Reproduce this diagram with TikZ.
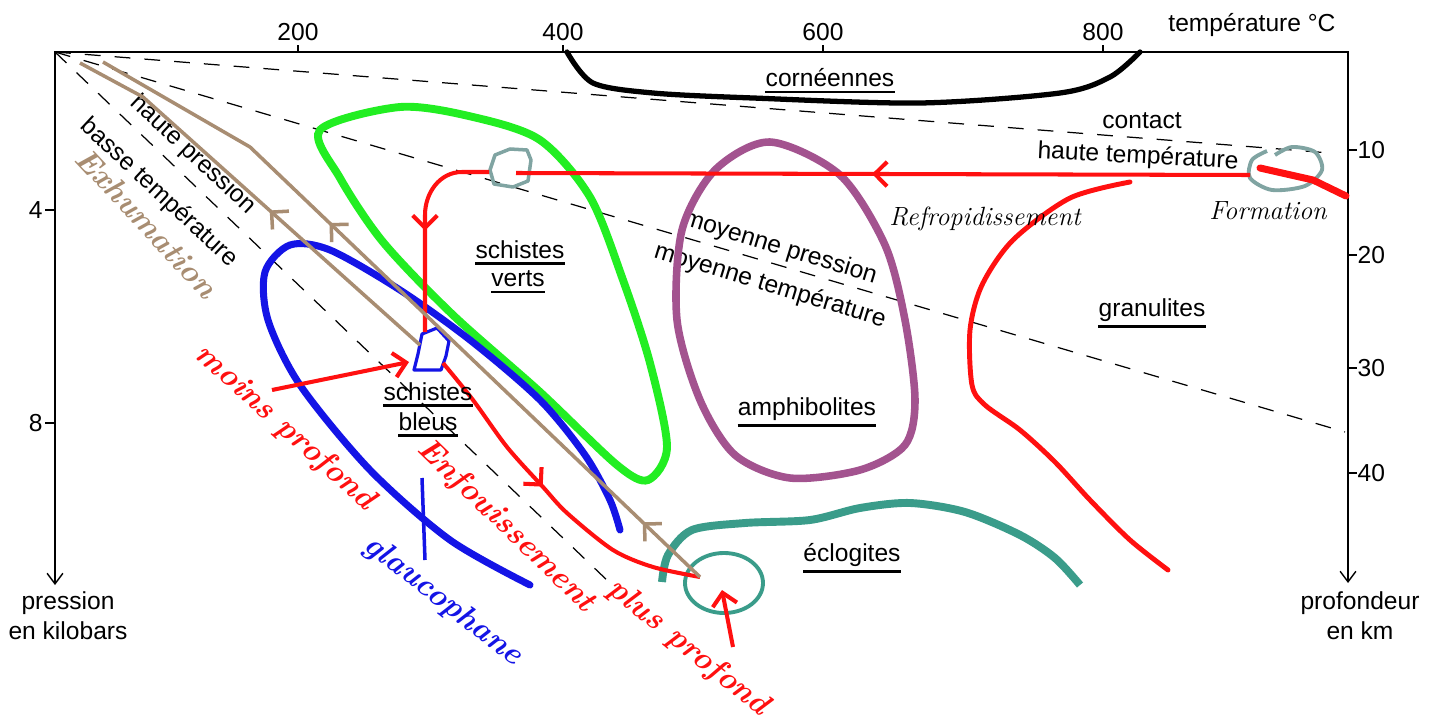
\documentclass[tikz,border=0pt]{standalone}
\usepackage{fontspec}
\setsansfont{Liberation Sans}
\usepackage{tikz}
\usetikzlibrary{arrows.meta, decorations.markings}
\definecolor{BLACK}{HTML}{000000}
\definecolor{RED}{HTML}{FF1010}
\definecolor{GREEN}{HTML}{22EE22}
\definecolor{BLUE}{HTML}{1414E6}
\definecolor{BROWN}{HTML}{A88D72}
\definecolor{PURPLE}{HTML}{A3538F}
\definecolor{TEAL}{HTML}{3A9C8A}
\definecolor{GREYTEAL}{HTML}{80A4A2}

\begin{document}
\begin{tikzpicture}[x=0.02cm, y=-0.02cm,
    lbl/.style={font=\sffamily\fontsize{14}{17}\selectfont, inner sep=0pt},
    hand/.style={font=\rmfamily\bfseries\itshape\fontsize{18}{22}\selectfont, inner sep=0pt},
    handsmall/.style={font=\rmfamily\itshape\fontsize{15}{18}\selectfont, inner sep=0pt},
    axe/.style={BLACK, line width=0.8pt},
    tiret/.style={BLACK, line width=0.7pt, dash pattern=on 9pt off 8pt},
    souligne/.style={BLACK, line width=1.5pt},
    rouge/.style={RED, line width=2.3pt, line join=round},
    brun/.style={BROWN, line width=2pt, line join=round},
    fleche/.style={postaction={decorate, decoration={markings, mark=at position #1 with {\arrow{Straight Barb[length=7pt,width=14pt]}}}}},
    ]
    \fill[white] (0,0) rectangle (1438,727);
    \useasboundingbox (0,0) rectangle (1438,727);
    %
    \coordinate (O) at (55,52);
    \coordinate (Ptop) at (1348,52);
    \coordinate (Pbas) at (55,585);
    \coordinate (Hbas) at (1348,583);
    \draw[axe, {Straight Barb[length=6pt,width=9pt]}-{Straight Barb[length=6pt,width=9pt]}] (Pbas) -- (O) -- (Ptop) -- (Hbas);
    %
    \draw[axe] (298,52) -- (298,45) node[lbl, above=2pt] (t200) {200};
    \draw[axe] (563,52) -- (563,45) node[lbl, above=2pt] (t400) {400};
    \draw[axe] (823,52) -- (823,45) node[lbl, above=2pt] (t600) {600};
    \draw[axe] (1103,52) -- (1103,45) node[lbl, above=2pt] (t800) {800};
    \node[lbl] (tempC) at (1252,25) {température °C};
    %
    \draw[axe] (55,210) -- (45,210) node[lbl, left=1pt] (p4) {4};
    \draw[axe] (55,423) -- (45,423) node[lbl, left=1pt] (p8) {8};
    \node[lbl, align=center] (pres) at (68,616) {pression\\en kilobars};
    %
    \draw[axe] (1348,150) -- (1357,150) node[lbl, right=0pt] (k10) {10};
    \draw[axe] (1348,255) -- (1357,255) node[lbl, right=0pt] (k20) {20};
    \draw[axe] (1348,368) -- (1357,368) node[lbl, right=0pt] (k30) {30};
    \draw[axe] (1348,473) -- (1357,473) node[lbl, right=0pt] (k40) {40};
    \node[lbl, align=center] (prof) at (1360,616) {profondeur\\en km};
    %
    \draw[tiret] (O) -- (1330,153);
    \draw[tiret] (O) -- (1345,432);
    \draw[tiret] (O) -- (610,583);
    %
    \node[lbl] (contact) at (1142,121) {contact};
    \node[lbl, rotate=-3] (hautT) at (1138,157) {haute température};
    \node[lbl, rotate=-17] (moyP) at (780,248) {moyenne pression};
    \node[lbl, rotate=-17] (moyT) at (770,286) {moyenne température};
    \node[lbl, rotate=-43] (hautP) at (193,155) {haute pression};
    \node[lbl, rotate=-43] (basT) at (159,193) {basse température};
    %
    \draw[BLACK, line width=3pt, line cap=round] plot[smooth] coordinates {(567,52) (593,83) (653,93) (753,98) (920,103) (1060,93) (1110,77) (1140,52)};
    \draw[GREEN, line width=4.5pt] plot[smooth cycle] coordinates {(320,130) (400,107) (473,117) (540,140) (590,197) (623,280) (650,363) (667,447) (648,480) (617,465) (540,392) (453,315) (383,242) (340,178)};
    \draw[PURPLE, line width=4.3pt] plot[smooth cycle] coordinates {(770,142) (840,175) (885,245) (905,320) (915,400) (905,445) (860,470) (790,478) (735,455) (700,400) (677,320) (682,230) (715,170)};
    \draw[BLUE, line width=4pt, line cap=round] plot[smooth] coordinates {(530,585) (450,540) (370,470) (300,385) (268,320) (265,272) (290,245) (330,250) (400,290) (470,340) (540,400) (585,455) (610,500) (620,530)};
    \draw[TEAL, line width=4.5pt] plot[smooth] coordinates {(662,582) (668,555) (692,530) (745,523) (810,520) (860,508) (910,503) (965,512) (1020,535) (1055,558) (1080,585)};
    \draw[RED, line width=2.8pt, line cap=round] plot[smooth] coordinates {(1130,182) (1070,198) (1013,240) (982,285) (970,330) (972,385) (985,405) (1020,430) (1055,462) (1090,500) (1130,540) (1168,570)};
    %
    \draw[TEAL, line width=2.2pt] (724,583) ellipse [x radius=39, y radius=30];
    \draw[GREYTEAL, line width=2.2pt] plot[smooth] coordinates {(1275,155) (1292,147) (1315,152) (1322,170) (1305,186) (1272,190) (1250,178) (1252,160) (1267,151)};
    \draw[RED, line width=4pt, line cap=round] (1260,168) -- (1313,180) -- (1346,196);
    %
    \draw[GREYTEAL, line width=2pt, line join=round] (495,155) -- (510,149) -- (527,150) -- (531,160) -- (528,181) -- (513,187) -- (494,184) -- (490,170) -- cycle;
    \draw[BLUE, line width=1.8pt, line join=round] (422,334) -- (437,328) -- (449,341) -- (446,356) -- (441,370) -- (414,370) -- (418,354) -- cycle;
    \draw[BLUE, line width=2pt] (422,478) -- (425,560);
    %
    \coordinate (form) at (1250,175);
    \coordinate (grisE) at (516,173);
    \coordinate (grisW) at (489,172);
    \coordinate (bleuN) at (425,332);
    \coordinate (bleuS) at (443,363);
    \coordinate (bleuW) at (409,362);
    \coordinate (ecloN) at (722,590);
    \coordinate (ecloP) at (700,577);
    \draw[rouge, fleche=0.515] (form) -- (grisE);
    \draw[rouge, fleche=0.51] (grisW) -- (462,172) to[out=180, in=90] (425,215) -- (bleuN);
    \draw[rouge, fleche=0.46] plot[smooth] coordinates {(bleuS) (473,400) (507,447) (543,487) (567,513) (613,550) (653,567) (ecloP)};
    \draw[rouge, -{Straight Barb[length=7pt,width=14pt]}] (272,390) -- (bleuW);
    \draw[rouge, -{Straight Barb[length=7pt,width=14pt]}] (733,647) -- (ecloN);
    %
    \draw[brun, fleche=0.455] (420,345) -- (143,97) -- (80,63);
    \draw[brun, fleche=0.10, fleche=0.647] (ecloP) -- (250,147) -- (103,62);
    %
    \node[lbl] (corn) at (830,78) {cornéennes};
    \node[lbl] (sv1) at (520,250) {schistes};
    \node[lbl] (sv2) at (518,279) {verts};
    \node[lbl] (sb1) at (428,392) {schistes};
    \node[lbl] (sb2) at (428,422) {bleus};
    \node[lbl] (amph) at (807,409) {amphibolites};
    \node[lbl] (eclo) at (852,555) {éclogites};
    \node[lbl] (gran) at (1152,310) {granulites};
    \draw[souligne] ([yshift=-2.5pt]corn.south west) -- ([yshift=-2.5pt]corn.south east);
    \draw[souligne] ([yshift=-2.5pt]sv1.south west) -- ([yshift=-2.5pt]sv1.south east);
    \draw[souligne] ([yshift=-2.5pt]sv2.south west) -- ([yshift=-2.5pt]sv2.south east);
    \draw[souligne] ([yshift=-2.5pt]sb1.south west) -- ([yshift=-2.5pt]sb1.south east);
    \draw[souligne] ([yshift=-2.5pt]sb2.south west) -- ([yshift=-2.5pt]sb2.south east);
    \draw[souligne] ([yshift=-2.5pt]amph.south west) -- ([yshift=-2.5pt]amph.south east);
    \draw[souligne] ([yshift=-2.5pt]eclo.south west) -- ([yshift=-2.5pt]eclo.south east);
    \draw[souligne] ([yshift=-2.5pt]gran.south west) -- ([yshift=-2.5pt]gran.south east);
    %
    \node[hand, BROWN, rotate=-47] (exhu) at (147,223) {Exhumation};
    \node[handsmall, BLACK] (refr) at (985,219) {Refropidissement};
    \node[handsmall, BLACK] (forma) at (1268,211) {Formation};
    \node[hand, RED, rotate=-42] (moins) at (285,428) {moins profond};
    \node[hand, RED, rotate=-44] (enfou) at (506,526) {Enfouissement};
    \node[hand, RED, rotate=-39] (plus) at (688,648) {plus profond};
    \node[hand, BLUE, rotate=-38] (glauco) at (443,601) {glaucophane};
\end{tikzpicture}
\end{document}
